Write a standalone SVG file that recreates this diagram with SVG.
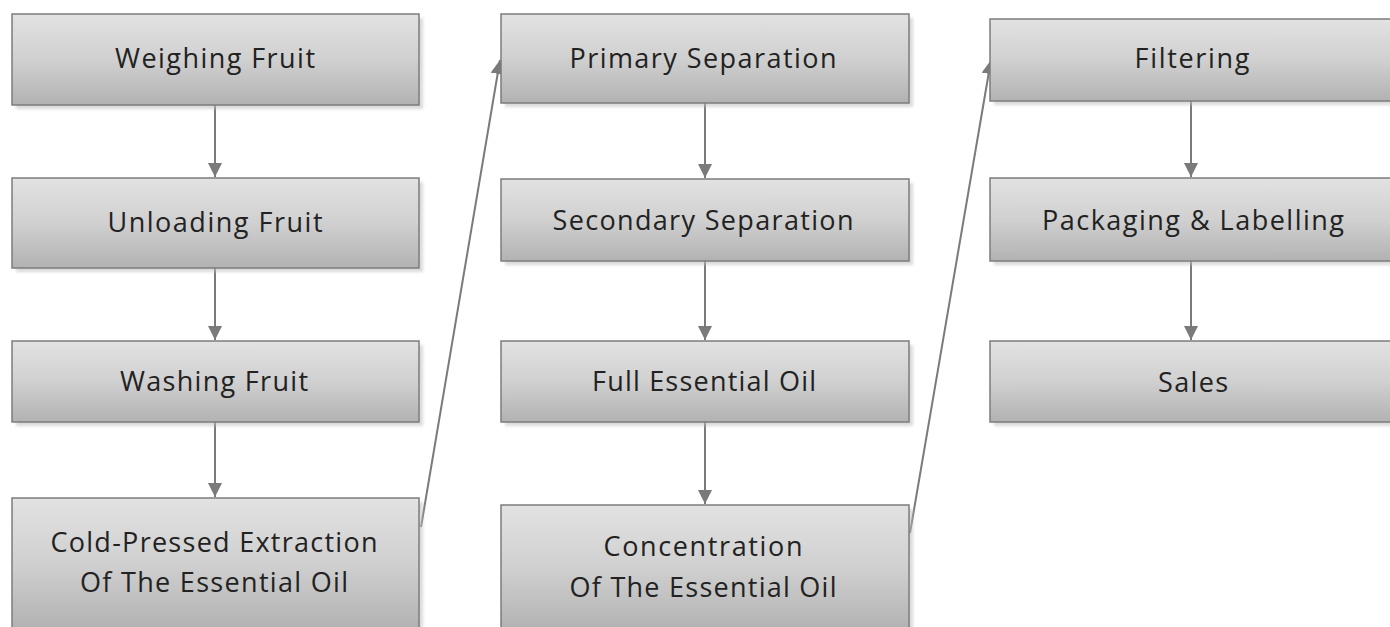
<svg xmlns="http://www.w3.org/2000/svg" width="1390" height="627" viewBox="0 0 1390 627">
<style>
.box{fill:url(#g);stroke:#7c7c7c;stroke-width:1.5}
.sh{fill:#bdbdbd;opacity:0.55;filter:url(#blur)}
.t{font-family:"Open Sans","Liberation Sans",sans-serif;font-size:27px;fill:#222;text-anchor:middle}
.c{stroke:#7a7a7a;stroke-width:2;fill:none;marker-end:url(#ah)}
</style>
<defs>
<linearGradient id="g" x1="0" y1="0" x2="0" y2="1">
<stop offset="0" stop-color="#e2e2e2"/>
<stop offset="0.5" stop-color="#d0d0d0"/>
<stop offset="1" stop-color="#b2b2b2"/>
</linearGradient>
<filter id="blur" x="-5%" y="-10%" width="110%" height="120%"><feGaussianBlur stdDeviation="1.5"/></filter>
<marker id="ah" markerUnits="userSpaceOnUse" markerWidth="14" markerHeight="14" refX="14" refY="7" orient="auto">
<path d="M0,0 L14,7 L0,14 z" fill="#7a7a7a"/>
</marker>
</defs>
<g id="connectors">
<line class="c" x1="215" y1="105" x2="215" y2="177"/>
<line class="c" x1="215" y1="268" x2="215" y2="340"/>
<line class="c" x1="215" y1="422" x2="215" y2="497"/>
<line class="c" x1="421" y1="527" x2="500" y2="60"/>
<line class="c" x1="705" y1="103" x2="705" y2="178"/>
<line class="c" x1="705" y1="261" x2="705" y2="340"/>
<line class="c" x1="705" y1="422" x2="705" y2="504"/>
<line class="c" x1="910" y1="533" x2="991" y2="60"/>
<line class="c" x1="1191" y1="101" x2="1191" y2="177"/>
<line class="c" x1="1191" y1="261" x2="1191" y2="340"/>
</g>
<g id="weighing">
<rect class="sh" x="16" y="18" width="407" height="91"/>
<rect class="box" x="12" y="14" width="407" height="91"/>
<text class="t" x="215" y="68" textLength="200" lengthAdjust="spacing">Weighing Fruit</text>
</g>
<g id="unloading">
<rect class="sh" x="16" y="182" width="407" height="90"/>
<rect class="box" x="12" y="178" width="407" height="90"/>
<text class="t" x="215" y="232" textLength="215" lengthAdjust="spacing">Unloading Fruit</text>
</g>
<g id="washing">
<rect class="sh" x="16" y="345" width="407" height="81"/>
<rect class="box" x="12" y="341" width="407" height="81"/>
<text class="t" x="214" y="391" textLength="188" lengthAdjust="spacing">Washing Fruit</text>
</g>
<g id="coldpressed">
<rect class="sh" x="16" y="502" width="407" height="130"/>
<rect class="box" x="12" y="498" width="407" height="130"/>
<text class="t" x="214" y="552" textLength="327" lengthAdjust="spacing">Cold-Pressed Extraction</text>
<text class="t" x="214" y="592" textLength="268" lengthAdjust="spacing">Of The Essential Oil</text>
</g>
<g id="primary">
<rect class="sh" x="505" y="18" width="408" height="89"/>
<rect class="box" x="501" y="14" width="408" height="89"/>
<text class="t" x="703" y="68" textLength="267" lengthAdjust="spacing">Primary Separation</text>
</g>
<g id="secondary">
<rect class="sh" x="505" y="183" width="408" height="82"/>
<rect class="box" x="501" y="179" width="408" height="82"/>
<text class="t" x="703" y="230" textLength="301" lengthAdjust="spacing">Secondary Separation</text>
</g>
<g id="fulloil">
<rect class="sh" x="505" y="345" width="408" height="81"/>
<rect class="box" x="501" y="341" width="408" height="81"/>
<text class="t" x="704" y="391" textLength="224" lengthAdjust="spacing">Full Essential Oil</text>
</g>
<g id="concentration">
<rect class="sh" x="505" y="509" width="408" height="125"/>
<rect class="box" x="501" y="505" width="408" height="125"/>
<text class="t" x="703" y="556" textLength="199" lengthAdjust="spacing">Concentration</text>
<text class="t" x="703" y="597" textLength="267" lengthAdjust="spacing">Of The Essential Oil</text>
</g>
<g id="filtering">
<rect class="sh" x="994" y="23" width="400" height="82"/>
<rect class="box" x="990" y="19" width="404" height="82"/>
<text class="t" x="1192" y="68" textLength="115" lengthAdjust="spacing">Filtering</text>
</g>
<g id="packaging">
<rect class="sh" x="994" y="182" width="400" height="83"/>
<rect class="box" x="990" y="178" width="404" height="83"/>
<text class="t" x="1193" y="230" textLength="302" lengthAdjust="spacing">Packaging &amp; Labelling</text>
</g>
<g id="sales">
<rect class="sh" x="994" y="345" width="400" height="81"/>
<rect class="box" x="990" y="341" width="404" height="81"/>
<text class="t" x="1193" y="392" textLength="70" lengthAdjust="spacing">Sales</text>
</g>
</svg>
